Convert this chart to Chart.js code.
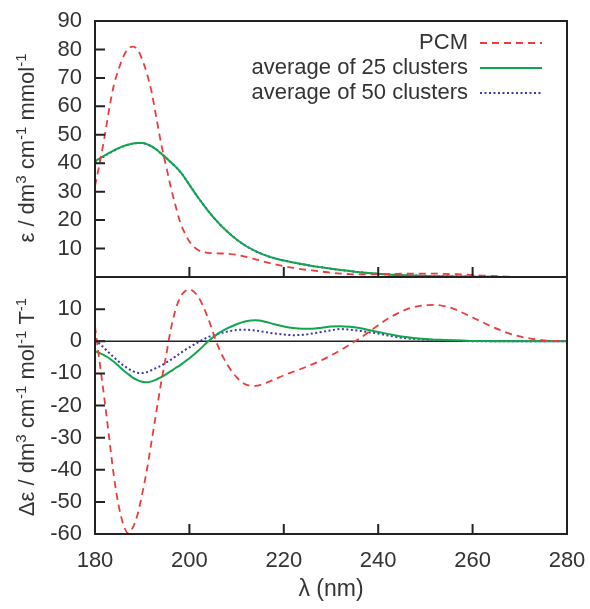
<!DOCTYPE html>
<html>
<head>
<meta charset="utf-8">
<script src="https://cdn.jsdelivr.net/npm/chart.js@4.4.1/dist/chart.umd.min.js"></script>
<style>
html, body { margin: 0; padding: 0; background: #fff; }
#wrap { position: relative; width: 590px; height: 609px; }
#top { position: absolute; left: 0; top: 0; }
#bot { position: absolute; left: 0; top: 262px; }
</style>
</head>
<body>
<div id="wrap">
  <canvas id="top" width="590" height="292"></canvas>
  <canvas id="bot" width="590" height="347"></canvas>
</div>
<script>
// wavelength grid (nm)
const wavelengths = [180, 181, 182, 183, 184, 185, 186, 187, 188, 189, 190, 191, 192, 193, 194, 195, 196, 197, 198, 199, 200,
  202, 204, 206, 208, 210, 212, 214, 216, 218, 220, 222, 224, 226, 228, 230, 232, 234, 236, 238, 240,
  242, 244, 246, 248, 250, 252, 254, 256, 258, 260, 262, 264, 266, 268, 270, 272, 274, 276, 278, 280];

// absorption, epsilon
const absPCM = [32, 40, 49, 59, 67.5, 73, 77.5, 80.2, 81, 80, 76.5, 71.5, 65, 56, 47, 39.5, 32, 25.5, 19.5, 15.5, 12.5,
  9.3, 8.5, 8.3, 8.2, 7.8, 7.1, 6.2, 5.3, 4.5, 3.8, 3.2, 2.7, 2.3, 1.9, 1.5, 1.2, 1.0, 0.9, 0.9, 1.0,
  1.0, 1.1, 1.2, 1.2, 1.2, 1.2, 1.1, 1.0, 0.9, 0.7, 0.5, 0.4, 0.2, 0.1, 0, 0, 0, 0, 0, 0];
const abs25 = [40.7, 41.7, 42.7, 43.6, 44.5, 45.3, 46, 46.5, 46.9, 47.1, 47.1, 46.7, 45.9, 44.8, 43.4, 42.0, 40.4, 38.9, 37.1, 34.9, 32.4,
  27.6, 23.2, 19.3, 16.0, 13.2, 10.9, 9.1, 7.7, 6.6, 5.8, 5.1, 4.5, 3.9, 3.4, 2.9, 2.5, 2.1, 1.7, 1.4, 1.1,
  0.9, 0.7, 0.6, 0.5, 0.4, 0.3, 0.3, 0.2, 0.2, 0.1, 0.1, 0.1, 0, 0, 0, 0, 0, 0, 0, 0];
const abs50 = [40.2, 41.3, 42.5, 43.5, 44.4, 45.2, 45.9, 46.5, 46.9, 47.1, 47.1, 46.7, 45.9, 44.8, 43.4, 42.0, 40.4, 38.9, 37.1, 34.9, 32.4,
  27.6, 23.2, 19.3, 16.0, 13.2, 10.9, 9.1, 7.7, 6.6, 5.8, 5.1, 4.5, 3.9, 3.4, 2.9, 2.5, 2.1, 1.7, 1.4, 1.1,
  0.9, 0.7, 0.6, 0.5, 0.4, 0.3, 0.3, 0.2, 0.2, 0.1, 0.1, 0.1, 0, 0, 0, 0, 0, 0, 0, 0];

// circular dichroism, delta epsilon
const cdPCM = [4.7, -6.8, -18, -30, -42, -51, -57, -59.7, -58, -54, -47.5, -40, -31, -22, -13, -5, 3.3, 9.5, 13.5, 15.5, 16.1,
  13.5, 7, -1.3, -7.2, -11.2, -13.5, -13.9, -13.1, -11.9, -10.6, -9.5, -8.4, -7.2, -5.9, -4.4, -2.8, -1.0, 0.8, 2.9, 5.0,
  7.0, 8.6, 9.9, 10.8, 11.2, 11.3, 10.9, 10.1, 8.8, 7.4, 6.0, 4.6, 3.4, 2.3, 1.5, 0.9, 0.5, 0.2, 0.1, 0];
const cd25 = [-3.1, -3.7, -4.4, -5.3, -6.4, -7.7, -9, -10.2, -11.3, -12.1, -12.6, -12.8, -12.5, -11.9, -11.2, -10.3, -9.4, -8.4, -7.5, -6.4, -5.3,
  -2.8, 0, 2.3, 4.0, 5.3, 6.2, 6.5, 6.1, 5.3, 4.6, 4.1, 3.9, 3.9, 4.2, 4.6, 4.7, 4.5, 4.1, 3.5, 2.9,
  2.3, 1.7, 1.3, 0.9, 0.7, 0.5, 0.4, 0.3, 0.2, 0.1, 0.1, 0, 0, 0, 0, 0, 0, 0, 0, 0];
const cd50 = [0.5, -0.8, -2.2, -3.6, -5, -6.3, -7.5, -8.5, -9.3, -9.8, -9.9, -9.6, -9.0, -8.3, -7.6, -6.7, -5.8, -4.8, -3.8, -2.8, -1.9,
  -0.2, 1.3, 2.3, 3.0, 3.5, 3.6, 3.3, 2.9, 2.4, 2.1, 1.9, 2.0, 2.4, 2.9, 3.4, 3.8, 3.6, 3.3, 2.8, 2.4,
  1.8, 1.3, 0.9, 0.7, 0.5, 0.4, 0.3, 0.2, 0.1, 0, 0, 0, 0, 0, 0, 0, 0, 0, 0, 0];

const xTickValues = [180, 200, 220, 240, 260, 280];
const seriesNames = ['PCM', 'average of 25 clusters', 'average of 50 clusters'];

const FONT = '"Liberation Sans", Arial, Helvetica, sans-serif';
const TEXT = '#333';
const red = '#ee3b3b', green = '#0fa64e', blue = '#3a3aa6';

function pts(ys) {
  return wavelengths.map((x, i) => ({x: x, y: ys[i]}));
}

function makeSets(a, b, c) {
  return [
    {label: seriesNames[0], data: pts(a), borderColor: red, borderWidth: 1.8, borderDash: [7, 5]},
    {label: seriesNames[1], data: pts(b), borderColor: green, borderWidth: 2},
    {label: seriesNames[2], data: pts(c), borderColor: blue, borderWidth: 2, borderDash: [2, 2.5]}
  ].map(d => Object.assign(d, {pointRadius: 0, fill: false, cubicInterpolationMode: 'monotone'}));
}

// rotated axis title with superscripts
function drawRich(ctx, parts, x, y) {
  const big = '22px ' + FONT, small = '15px ' + FONT;
  ctx.save();
  ctx.translate(x, y);
  ctx.rotate(-Math.PI / 2);
  let w = 0;
  parts.forEach(p => { ctx.font = p[1] ? small : big; w += ctx.measureText(p[0]).width; });
  let cx = -w / 2;
  ctx.fillStyle = TEXT;
  ctx.textAlign = 'left';
  ctx.textBaseline = 'alphabetic';
  parts.forEach(p => {
    ctx.font = p[1] ? small : big;
    ctx.fillText(p[0], cx, p[1] ? -8 : 0);
    cx += ctx.measureText(p[0]).width;
  });
  ctx.restore();
}

const frame = {
  id: 'frame',
  beforeDatasetsDraw(chart, args, opts) {
    if (!opts.zeroLine) return;
    const {ctx, chartArea: a, scales} = chart;
    const y0 = scales.y.getPixelForValue(0);
    ctx.save();
    ctx.strokeStyle = '#222';
    ctx.lineWidth = 1.5;
    ctx.beginPath();
    ctx.moveTo(a.left, y0);
    ctx.lineTo(a.right, y0);
    ctx.stroke();
    ctx.restore();
  },
  afterDraw(chart, args, opts) {
    const {ctx, chartArea: a, scales} = chart;
    ctx.save();
    ctx.strokeStyle = '#222';
    ctx.lineWidth = 2;
    ctx.strokeRect(a.left, a.top, a.right - a.left, a.bottom - a.top);
    ctx.beginPath();
    scales.y.ticks.forEach(t => {
      if (t.value <= scales.y.min || t.value >= scales.y.max) return;
      const y = scales.y.getPixelForValue(t.value);
      ctx.moveTo(a.left, y);
      ctx.lineTo(a.left + 10, y);
    });
    xTickValues.slice(1, -1).forEach(v => {
      const x = scales.x.getPixelForValue(v);
      ctx.moveTo(x, a.bottom);
      ctx.lineTo(x, a.bottom - 10);
    });
    ctx.stroke();
    ctx.restore();
  }
};

const legendBox = {
  id: 'legendBox',
  afterDraw(chart) {
    const ctx = chart.ctx;
    const rows = [43, 68, 93];
    ctx.save();
    ctx.font = '22px ' + FONT;
    ctx.fillStyle = TEXT;
    ctx.textAlign = 'right';
    ctx.textBaseline = 'middle';
    chart.data.datasets.forEach((d, i) => {
      ctx.fillText(d.label, 468, rows[i]);
      ctx.strokeStyle = d.borderColor;
      ctx.lineWidth = d.borderWidth;
      ctx.setLineDash(d.borderDash || []);
      ctx.beginPath();
      ctx.moveTo(480, rows[i]);
      ctx.lineTo(542, rows[i]);
      ctx.stroke();
    });
    ctx.restore();
  }
};

const titles = {
  id: 'titles',
  afterDraw(chart, args, opts) {
    const ctx = chart.ctx;
    drawRich(ctx, opts.parts, 34, opts.cy);
    if (opts.xTitle) {
      ctx.save();
      ctx.font = '23px ' + FONT;
      ctx.fillStyle = TEXT;
      ctx.textAlign = 'center';
      ctx.textBaseline = 'alphabetic';
      ctx.fillText(opts.xTitle, 331, opts.xTitleY);
      ctx.restore();
    }
  }
};

function noPad(s) {
  s.paddingTop = 0; s.paddingBottom = 0; s.paddingLeft = 0; s.paddingRight = 0;
}

function yAxis(min, max, hide) {
  return {
    min: min, max: max,
    afterFit(s) { s.width = 95; noPad(s); },
    afterBuildTicks(s) {
      const t = [];
      for (let v = min; v <= max; v += 10) t.push({value: v});
      s.ticks = t;
    },
    ticks: {
      padding: 13, color: TEXT, font: {family: FONT, size: 22}, autoSkip: false,
      callback: v => (v === hide ? '' : v)
    },
    grid: {display: false, drawTicks: false, tickLength: 0},
    border: {display: false}
  };
}

function xAxis(show) {
  return {
    type: 'linear', min: 180, max: 280, display: show,
    afterFit(s) { s.height = show ? 75 : 0; noPad(s); },
    afterBuildTicks(s) { s.ticks = xTickValues.map(v => ({value: v})); },
    ticks: {padding: 14, color: TEXT, font: {family: FONT, size: 22}, maxRotation: 0, autoSkip: false},
    grid: {display: false, drawTicks: false, tickLength: 0},
    border: {display: false}
  };
}

new Chart(document.getElementById('top'), {
  type: 'line',
  data: {datasets: makeSets(absPCM, abs25, abs50)},
  options: {
    responsive: false, animation: false, devicePixelRatio: 1,
    layout: {padding: {top: 21, right: 23, bottom: 15, left: 0}},
    scales: {x: xAxis(false), y: yAxis(0, 90, 0)},
    plugins: {
      legend: {display: false}, tooltip: {enabled: false},
      frame: {zeroLine: false},
      titles: {cy: 148, parts: [['ε / dm', 0], ['3', 1], [' cm', 0], ['-1', 1], [' mmol', 0], ['-1', 1]]}
    }
  },
  plugins: [frame, legendBox, titles]
});

new Chart(document.getElementById('bot'), {
  type: 'line',
  data: {datasets: makeSets(cdPCM, cd25, cd50)},
  options: {
    responsive: false, animation: false, devicePixelRatio: 1,
    layout: {padding: {top: 15, right: 23, bottom: 0, left: 0}},
    scales: {x: xAxis(true), y: yAxis(-60, 20, 20)},
    plugins: {
      legend: {display: false}, tooltip: {enabled: false},
      frame: {zeroLine: true},
      titles: {
        cy: 145,
        parts: [['Δε / dm', 0], ['3', 1], [' cm', 0], ['-1', 1], [' mol', 0], ['-1', 1], [' T', 0], ['-1', 1]],
        xTitle: 'λ (nm)', xTitleY: 334
      }
    }
  },
  plugins: [frame, titles]
});
</script>
</body>
</html>
